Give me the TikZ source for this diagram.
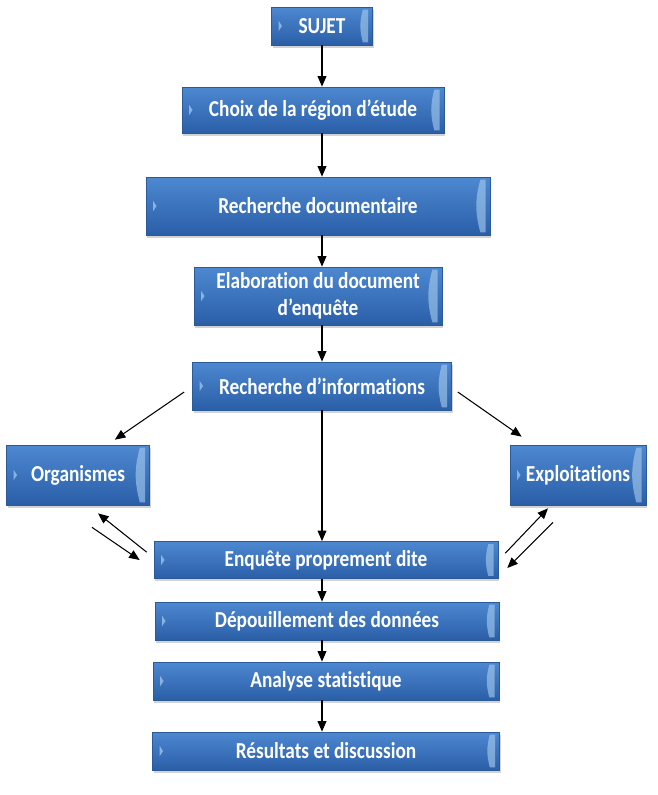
\documentclass[tikz,border=0pt]{standalone}
\usepackage{fontspec}
\setmainfont{Carlito}[FakeStretch=0.845,RawFeature=-liga]
\usetikzlibrary{arrows.meta,shadows,calc}
\definecolor{boxtop}{HTML}{4D88D0}
\definecolor{boxbot}{HTML}{2A5FA8}
\definecolor{boxline}{HTML}{2A5A98}
\definecolor{bevel}{HTML}{A9CDF0}
\tikzset{
  etape/.style={draw=boxline,line width=0.4pt,top color=boxtop,bottom color=boxbot,
    text=white,font=\fontsize{13}{15.5}\selectfont\bfseries,align=center,inner sep=1pt,
    drop shadow={opacity=0.35,shadow xshift=0.8pt,shadow yshift=-1.6pt},
    path picture={
      \fill[bevel,opacity=0.6] ([xshift=-5.5pt,yshift=-1.5pt]path picture bounding box.north east)
        to[bend right=15] ([xshift=-5.5pt,yshift=1.5pt]path picture bounding box.south east)
        -- ([xshift=-2.5pt,yshift=1.5pt]path picture bounding box.south east)
        -- ([xshift=-2.5pt,yshift=-1.5pt]path picture bounding box.north east) -- cycle;
      \fill[bevel,opacity=0.7] ([xshift=4pt,yshift=3pt]path picture bounding box.west)
        -- ++(2pt,-3pt) -- ++(-2pt,-3pt) -- cycle;
    }},
  fleche/.style={-{Triangle[length=6pt,width=5pt]},line width=0.6pt}
}
\begin{document}
\begin{tikzpicture}[x=0.02cm,y=-0.02cm]
\useasboundingbox (0,0) rectangle (658,795);
% les etapes
\node[etape,minimum width=2.02cm,minimum height=0.76cm] (sujet) at (322,26) {SUJET};
\node[etape,minimum width=5.24cm,minimum height=0.92cm] (choix) at (313,110) {Choix de la région d’étude};
\node[etape,minimum width=6.88cm,minimum height=1.16cm] (recdoc) at (318,206) {Recherche documentaire};
\node[etape,minimum width=4.96cm,minimum height=1.16cm] (elab) at (318,296) {Elaboration du document\\d’enquête};
\node[etape,minimum width=5.18cm,minimum height=0.96cm] (recinfo) at (322,386) {Recherche d’informations};
\node[etape,minimum width=2.86cm,minimum height=1.2cm] (orga) at (78,475) {Organismes};
\node[etape,minimum width=2.72cm,minimum height=1.2cm] (exploit) at (578,475) {Exploitations};
\node[etape,minimum width=6.88cm,minimum height=0.74cm] (enquete) at (326,560) {Enquête proprement dite};
\node[etape,minimum width=6.88cm,minimum height=0.76cm] (depouil) at (327,621) {Dépouillement des données};
\node[etape,minimum width=6.92cm,minimum height=0.76cm] (analyse) at (326,681) {Analyse statistique};
\node[etape,minimum width=6.94cm,minimum height=0.76cm] (result) at (326,751) {Résultats et discussion};
% liaisons
\coordinate (axe) at (322,0);
\draw[fleche] (sujet.south) -- (axe |- choix.north);
\draw[fleche] (axe |- choix.south) -- (axe |- recdoc.north);
\draw[fleche] (axe |- recdoc.south) -- (axe |- elab.north);
\draw[fleche] (axe |- elab.south) -- (axe |- recinfo.north);
\draw[fleche] (axe |- recinfo.south) -- (axe |- enquete.north);
\draw[fleche] (axe |- enquete.south) -- (axe |- depouil.north);
\draw[fleche] (axe |- depouil.south) -- (axe |- analyse.north);
\draw[fleche] (axe |- analyse.south) -- (axe |- result.north);
\draw[fleche] ($(recinfo.west)+(-8,6)$) -- ($(orga.north east)+(-35,-5)$);
\draw[fleche] ($(recinfo.east)+(6,6)$) -- ($(exploit.north west)+(12,-8)$);
% allers-retours
\draw[fleche] ($(enquete.north west)+(-7,11)$) -- ($(orga.south)+(20,8)$);
\draw[fleche] ($(orga.south)+(14,22)$) -- ($(enquete.west)+(-14,0)$);
\draw[fleche] ($(enquete.north east)+(7,12)$) -- ($(exploit.south)+(-30,3)$);
\draw[fleche] ($(exploit.south)+(-25,17)$) -- ($(enquete.east)+(9,8)$);
\end{tikzpicture}
\end{document}
